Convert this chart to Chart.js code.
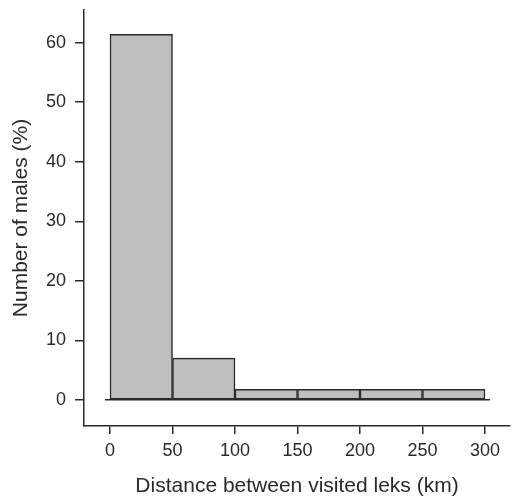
<!DOCTYPE html>
<html>
<head>
<meta charset="utf-8">
<script src="https://cdn.jsdelivr.net/npm/chart.js@4.4.1/dist/chart.umd.min.js"></script>
<style>
  html, body { margin: 0; padding: 0; background: #fff; }
  #wrap { width: 512px; height: 499px; }
</style>
</head>
<body>
<div id="wrap"><canvas id="hist" width="512" height="499"></canvas></div>
<script>
// ---------- Data ----------
const binStarts = [0, 50, 100, 150, 200, 250];
const binWidth  = 50;
const percents  = [61.4, 7.0, 1.75, 1.75, 1.75, 1.75];
const xTicks    = [0, 50, 100, 150, 200, 250, 300];
const yTicks    = [0, 10, 20, 30, 40, 50, 60];

const INK  = "#2a2a2a";
const FILL = "#bebebe";
const FONT = "'Liberation Sans', Arial, sans-serif";

Chart.defaults.font.family = FONT;
Chart.defaults.color = INK;

const bars = binStarts.map((s, i) => ({ x: s + binWidth / 2, y: percents[i] }));

new Chart(document.getElementById("hist"), {
  data: {
    datasets: [
      {
        type: "bar",
        data: bars,
        backgroundColor: FILL,
        borderColor: INK,
        borderWidth: 1.5,
        borderSkipped: false,
        barPercentage: 1,
        categoryPercentage: 1
      },
      { // ligne de base sous les barres
        type: "line",
        data: [{ x: -4, y: 0 }, { x: 304, y: 0 }],
        borderColor: INK,
        borderWidth: 1.5,
        pointRadius: 0
      }
    ]
  },
  options: {
    responsive: false,
    animation: false,
    layout: { padding: { top: 10, right: 2, left: 0, bottom: 0 } },
    plugins: { legend: { display: false }, tooltip: { enabled: false } },
    scales: {
      x: {
        type: "linear",
        offset: false,
        min: -20.8, max: 320,
        afterBuildTicks: s => { s.ticks = xTicks.map(v => ({ value: v })); },
        afterFit: s => { s.height = 73; s.paddingLeft = 0; s.paddingRight = 0; },
        grid: { offset: false, drawOnChartArea: false, drawTicks: true, tickLength: 8, color: INK, lineWidth: 1.5 },
        border: { display: true, color: INK, width: 1.5 },
        ticks: { font: { size: 18 }, padding: 6, color: INK, maxRotation: 0, autoSkip: false },
        title: { display: true, text: "Distance between visited leks (km)", font: { size: 21 }, color: INK, padding: { top: 0, bottom: 0 } }
      },
      y: {
        type: "linear",
        min: -4.4, max: 65.5,
        afterBuildTicks: s => { s.ticks = yTicks.map(v => ({ value: v })); },
        afterFit: s => { s.width = 84; s.paddingTop = 0; s.paddingBottom = 0; },
        grid: { drawOnChartArea: false, drawTicks: true, tickLength: 9, color: INK, lineWidth: 1.5 },
        border: { display: true, color: INK, width: 1.5 },
        ticks: { font: { size: 18 }, padding: 9, color: INK },
        title: { display: true, text: "Number of males (%)", font: { size: 21 }, color: INK, padding: { top: 9, bottom: 0 } }
      }
    }
  }
});
</script>
</body>
</html>
